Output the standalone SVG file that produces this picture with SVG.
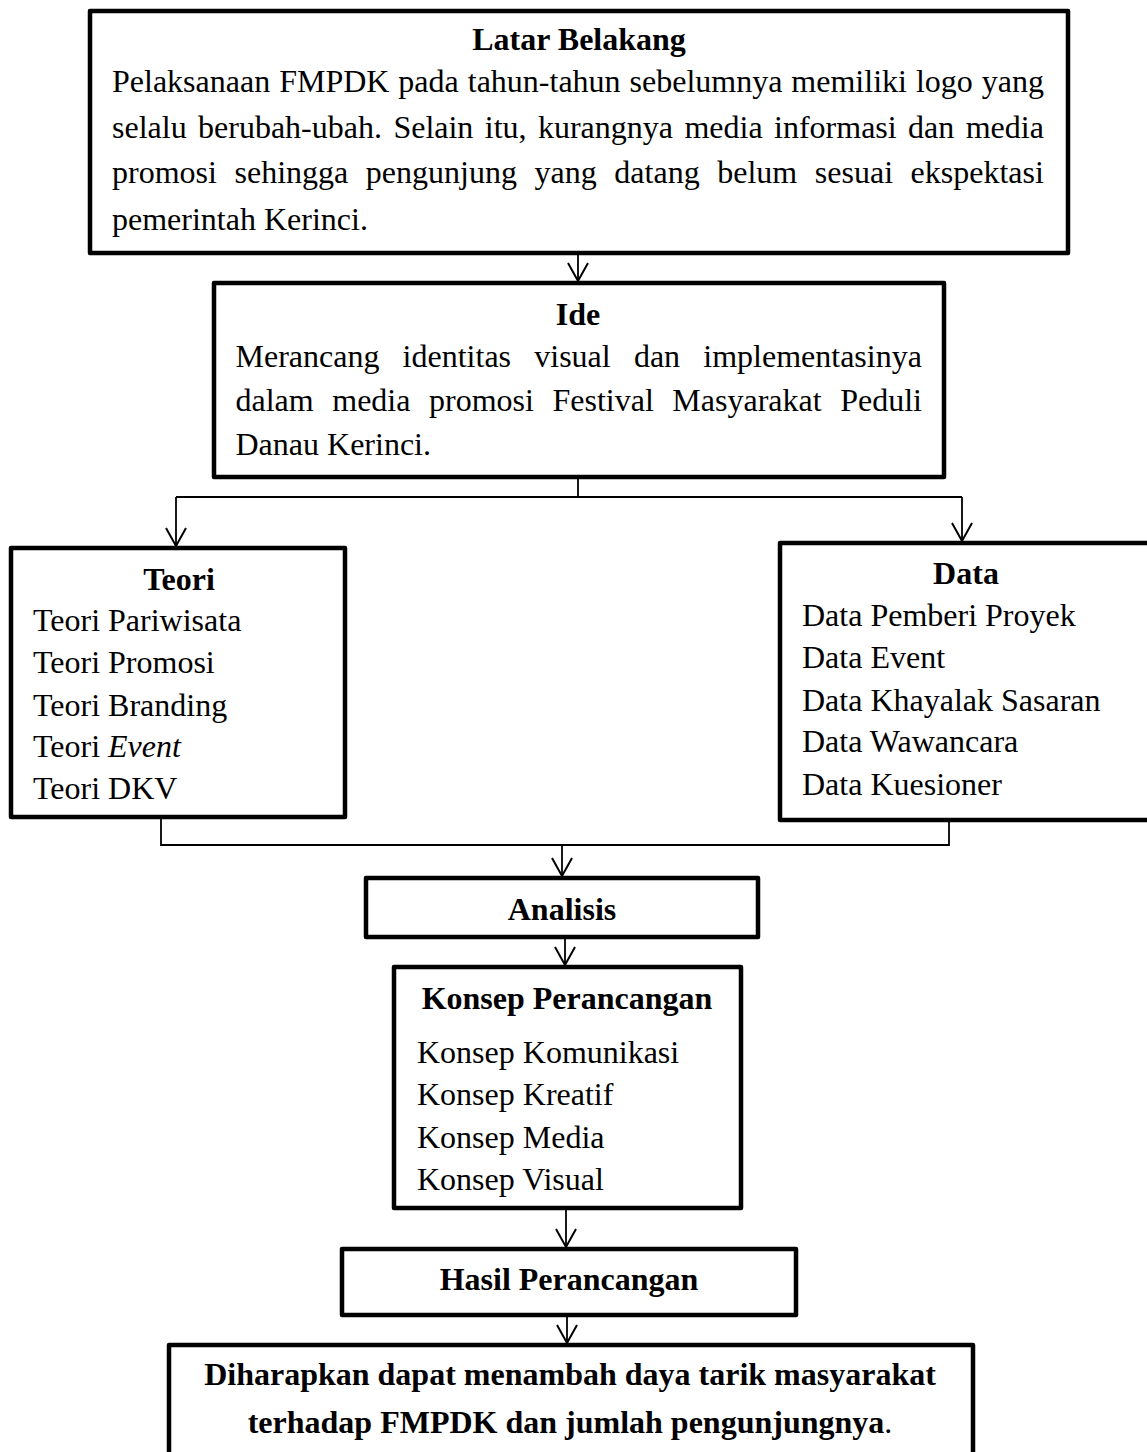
<svg xmlns="http://www.w3.org/2000/svg" width="1147" height="1452" viewBox="0 0 1147 1452">
<style>
  .box { fill: #fff; stroke: #000; stroke-width: 4.5; stroke-linejoin: round; }
  .t { font-family: "Liberation Serif", "Times New Roman", serif; font-size: 32px; fill: #000; }
  .b { font-weight: bold; }
  .c { text-anchor: middle; }
  .ln { fill: none; stroke: #000; stroke-width: 1.8; }
</style>
<defs>
  <marker id="arr" markerUnits="userSpaceOnUse" markerWidth="24" markerHeight="24" refX="0" refY="0" orient="auto" overflow="visible">
    <path d="M -18 -10 L 0 0 L -18 10" fill="none" stroke="#000" stroke-width="2"/>
  </marker>
</defs>
<rect width="1147" height="1452" fill="#fff"/>

<g id="connectors">
  <path class="ln" d="M 578 253 L 578 281" marker-end="url(#arr)"/>
  <path class="ln" d="M 578 477 L 578 497"/>
  <path class="ln" d="M 176 497 L 962 497"/>
  <path class="ln" d="M 176 497 L 176 546" marker-end="url(#arr)"/>
  <path class="ln" d="M 962 497 L 962 541" marker-end="url(#arr)"/>
  <path class="ln" d="M 161 817 L 161 845 L 949 845 L 949 820"/>
  <path class="ln" d="M 562 845 L 562 876" marker-end="url(#arr)"/>
  <path class="ln" d="M 565 937 L 565 965" marker-end="url(#arr)"/>
  <path class="ln" d="M 566 1208 L 566 1247" marker-end="url(#arr)"/>
  <path class="ln" d="M 567 1315 L 567 1343" marker-end="url(#arr)"/>
</g>

<g id="latar-belakang">
  <rect class="box" x="90" y="11" width="978" height="242"/>
  <text class="t b c" x="579" y="50">Latar Belakang</text>
  <text class="t" x="112" y="92" word-spacing="0.97">Pelaksanaan FMPDK pada tahun-tahun sebelumnya memiliki logo yang</text>
  <text class="t" x="112" y="138" word-spacing="3.41">selalu berubah-ubah. Selain itu, kurangnya media informasi dan media</text>
  <text class="t" x="112" y="183" word-spacing="9.6">promosi sehingga pengunjung yang datang belum sesuai ekspektasi</text>
  <text class="t" x="112" y="230">pemerintah Kerinci.</text>
</g>

<g id="ide">
  <rect class="box" x="214" y="283" width="730" height="194"/>
  <text class="t b c" x="578" y="325">Ide</text>
  <text class="t" x="235.5" y="367" word-spacing="15.2">Merancang identitas visual dan implementasinya</text>
  <text class="t" x="235.5" y="411" word-spacing="10.56">dalam media promosi Festival Masyarakat Peduli</text>
  <text class="t" x="235.5" y="455">Danau Kerinci.</text>
</g>

<g id="teori">
  <rect class="box" x="11" y="548" width="334" height="269"/>
  <text class="t b c" x="179" y="590">Teori</text>
  <text class="t" x="33" y="631">Teori Pariwisata</text>
  <text class="t" x="33" y="673">Teori Promosi</text>
  <text class="t" x="33" y="716">Teori Branding</text>
  <text class="t" x="33" y="757">Teori <tspan font-style="italic">Event</tspan></text>
  <text class="t" x="33" y="799">Teori DKV</text>
</g>

<g id="data">
  <rect class="box" x="780" y="543" width="372" height="277"/>
  <text class="t b c" x="966" y="584">Data</text>
  <text class="t" x="802" y="626">Data Pemberi Proyek</text>
  <text class="t" x="802" y="668">Data Event</text>
  <text class="t" x="802" y="711">Data Khayalak Sasaran</text>
  <text class="t" x="802" y="752">Data Wawancara</text>
  <text class="t" x="802" y="795">Data Kuesioner</text>
</g>

<g id="analisis">
  <rect class="box" x="366" y="878" width="392" height="59"/>
  <text class="t b c" x="562" y="920">Analisis</text>
</g>

<g id="konsep-perancangan">
  <rect class="box" x="394" y="967" width="347" height="241"/>
  <text class="t b c" x="567" y="1009">Konsep Perancangan</text>
  <text class="t" x="417" y="1063">Konsep Komunikasi</text>
  <text class="t" x="417" y="1105">Konsep Kreatif</text>
  <text class="t" x="417" y="1148">Konsep Media</text>
  <text class="t" x="417" y="1190">Konsep Visual</text>
</g>

<g id="hasil-perancangan">
  <rect class="box" x="342" y="1249" width="454" height="66"/>
  <text class="t b c" x="569" y="1290">Hasil Perancangan</text>
</g>

<g id="harapan">
  <rect class="box" x="169" y="1345" width="804" height="125"/>
  <text class="t b c" x="570" y="1385">Diharapkan dapat menambah daya tarik masyarakat</text>
  <text class="t c" x="570" y="1433"><tspan font-weight="bold">terhadap FMPDK dan jumlah pengunjungnya</tspan>.</text>
</g>
</svg>
